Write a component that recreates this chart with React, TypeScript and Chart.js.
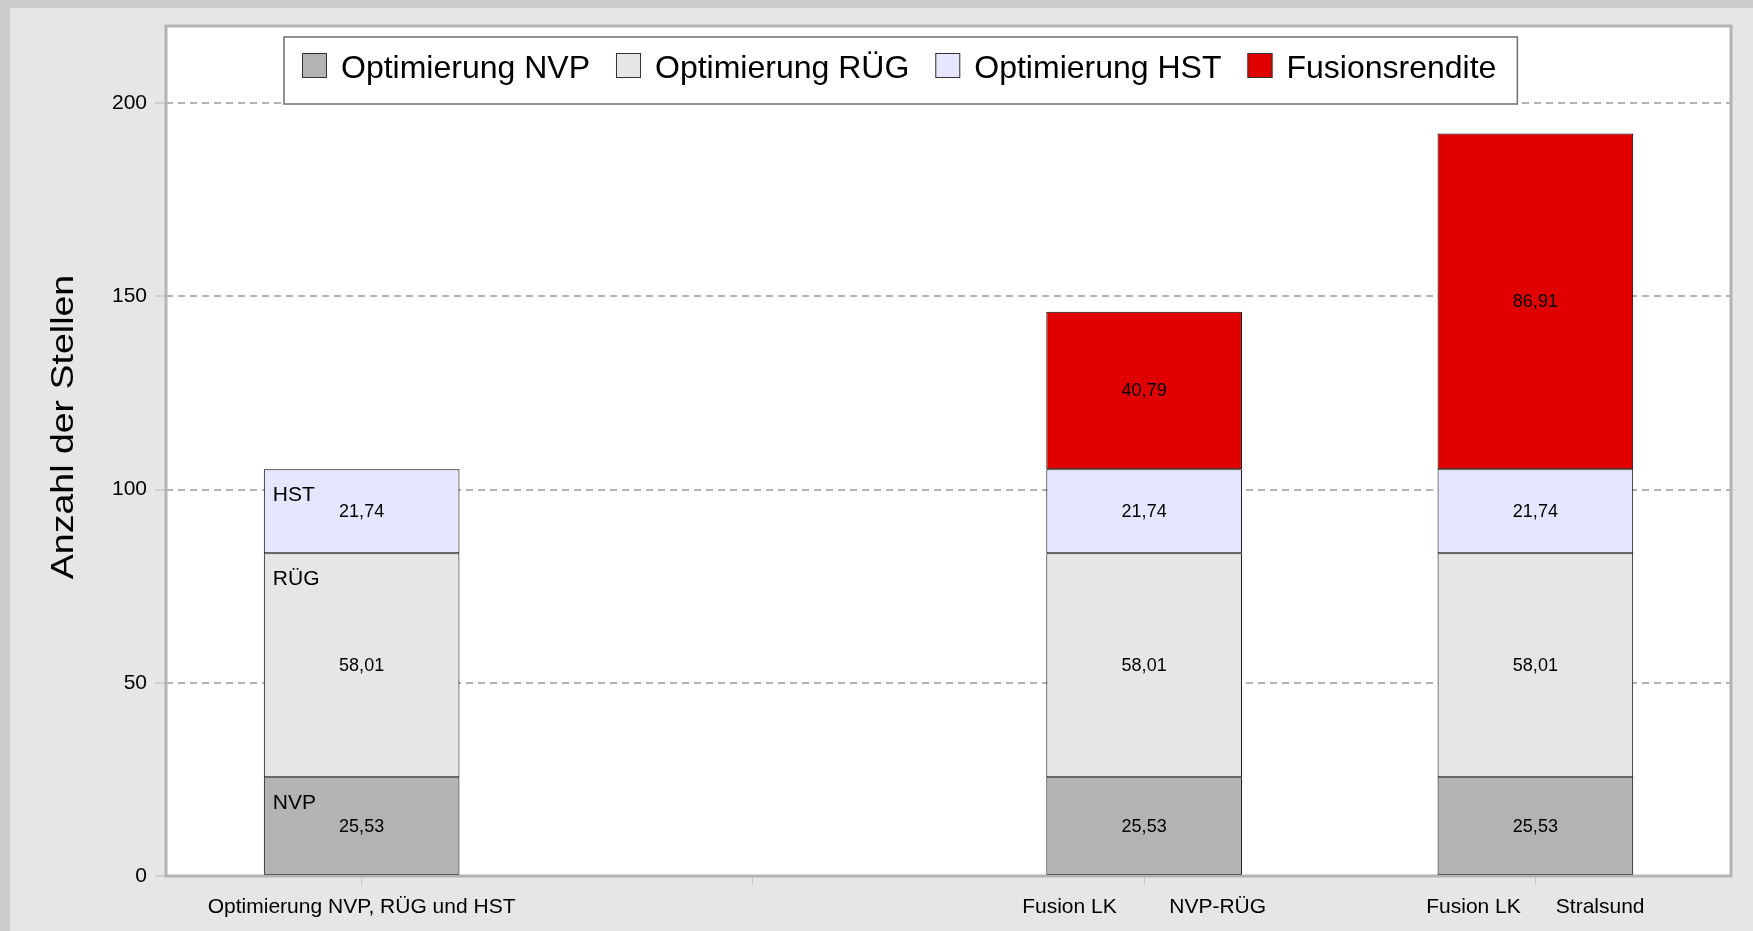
import React, { useEffect, useRef } from "react";
import { Chart, registerables } from "chart.js";

Chart.register(...registerables);

const categories = [
  "Optimierung NVP, RÜG und HST",
  "",
  "Fusion LK         NVP-RÜG",
  "Fusion LK      Stralsund",
];
const seriesNames = ["Optimierung NVP", "Optimierung RÜG", "Optimierung HST", "Fusionsrendite"];
const segmentTags = ["NVP", "RÜG", "HST"];
const nvpValues = [25.53, null, 25.53, 25.53];
const ruegValues = [58.01, null, 58.01, 58.01];
const hstValues = [21.74, null, 21.74, 21.74];
const fusionValues = [null, null, 40.79, 86.91];
const yTickValues = [0, 50, 100, 150, 200];
const yMax = 220;
const yTitle = "Anzahl der Stellen";
const seriesColors = ["#b3b3b3", "#e6e6e6", "#e6e6ff", "#e00000"];

const FONT = "'Liberation Sans', Arial, sans-serif";

const backgroundPlugin = {
  id: "bg",
  beforeDraw(chart: any) {
    const { ctx, width, height, chartArea: a } = chart;
    ctx.save();
    ctx.fillStyle = "#cccccc";
    ctx.fillRect(0, 0, width, height);
    ctx.fillStyle = "#e6e6e6";
    ctx.fillRect(10, 8, width - 10, height - 8);
    ctx.fillStyle = "#ffffff";
    ctx.fillRect(a.left, a.top, a.right - a.left, a.bottom - a.top);
    ctx.restore();
  },
};

const overlayPlugin = {
  id: "overlay",
  afterDatasetsDraw(chart: any) {
    const { ctx, chartArea: a } = chart;
    ctx.save();
    // value labels
    ctx.fillStyle = "#000";
    ctx.textAlign = "center";
    ctx.textBaseline = "middle";
    ctx.font = `18px ${FONT}`;
    chart.data.datasets.forEach((ds: any, i: number) => {
      const meta = chart.getDatasetMeta(i);
      meta.data.forEach((el: any, j: number) => {
        const v = ds.data[j];
        if (v == null) return;
        const p = el.getProps(["x", "y", "base"], true);
        ctx.fillText(v.toFixed(2).replace(".", ","), p.x, (p.y + p.base) / 2 + 1);
      });
    });
    // segment tags in first bar
    ctx.textAlign = "left";
    ctx.font = `21px ${FONT}`;
    segmentTags.forEach((tag, i) => {
      const el: any = chart.getDatasetMeta(i).data[0];
      if (!el) return;
      const p = el.getProps(["x", "y", "width"], true);
      ctx.fillText(tag, p.x - p.width / 2 + 9, p.y + 26);
    });
    // plot border
    ctx.strokeStyle = "#b3b3b3";
    ctx.lineWidth = 3;
    ctx.strokeRect(a.left, a.top, a.right - a.left, a.bottom - a.top);
    ctx.restore();
  },
  afterDraw(chart: any) {
    const { ctx, chartArea: a } = chart;
    ctx.save();
    // legend
    ctx.font = `32px ${FONT}`;
    const boxSize = 25;
    const gapBoxText = 14;
    const gapItems = 26;
    const left = a.left + 118;
    const top = 37;
    const bottom = 104;
    let x = left + 18;
    const items = seriesNames.map((name, i) => {
      const w = ctx.measureText(name).width;
      const it = { name, color: seriesColors[i], x, w };
      x += boxSize + gapBoxText + w + gapItems;
      return it;
    });
    const right = x - gapItems + 21;
    ctx.fillStyle = "#ffffff";
    ctx.fillRect(left, top, right - left, bottom - top);
    ctx.strokeStyle = "#6f6f6f";
    ctx.lineWidth = 1.5;
    ctx.strokeRect(left, top, right - left, bottom - top);
    items.forEach((it) => {
      ctx.fillStyle = it.color;
      ctx.fillRect(it.x, 53, boxSize, boxSize);
      ctx.strokeStyle = "#333";
      ctx.lineWidth = 1;
      ctx.strokeRect(it.x + 0.5, 53.5, boxSize - 1, boxSize - 1);
      ctx.fillStyle = "#000";
      ctx.textAlign = "left";
      ctx.textBaseline = "alphabetic";
      ctx.fillText(it.name, it.x + boxSize + gapBoxText, 78);
    });
    // y axis title
    ctx.translate(73, 427);
    ctx.rotate(-Math.PI / 2);
    ctx.scale(1.21, 1);
    ctx.font = `31px ${FONT}`;
    ctx.fillStyle = "#000";
    ctx.textAlign = "center";
    ctx.textBaseline = "alphabetic";
    ctx.fillText(yTitle, 0, 0);
    ctx.restore();
  },
};

export default function App() {
  const ref = useRef<HTMLCanvasElement>(null);
  useEffect(() => {
    const valueSets = [nvpValues, ruegValues, hstValues, fusionValues];
    const chart = new Chart(ref.current as HTMLCanvasElement, {
      type: "bar",
      data: {
        labels: categories,
        datasets: valueSets.map((vals, i) => ({
          label: seriesNames[i],
          data: vals as any,
          backgroundColor: seriesColors[i],
          borderColor: "#000000",
          borderWidth: 1,
          borderSkipped: false,
          barPercentage: 0.5,
          categoryPercentage: 1,
        })),
      },
      options: {
        animation: false,
        responsive: true,
        maintainAspectRatio: false,
        events: [],
        layout: { padding: { top: 26, right: 22, bottom: 0, left: 0 } },
        plugins: {
          legend: { display: false },
          tooltip: { enabled: false },
          title: { display: false },
        },
        scales: {
          x: {
            stacked: true,
            offset: true,
            border: { display: false },
            grid: {
              display: true,
              drawOnChartArea: false,
              drawTicks: true,
              tickLength: 9,
              offset: false,
              tickColor: "#c8c8c8",
              tickWidth: 1,
            },
            ticks: {
              color: "#000",
              padding: 10,
              autoSkip: false,
              maxRotation: 0,
              font: { family: FONT, size: 21 },
            },
            afterFit(scale: any) {
              scale.height = 55;
            },
          },
          y: {
            stacked: true,
            min: 0,
            max: yMax,
            border: { display: false, dash: [7, 5] },
            grid: {
              color: "#b3b3b3",
              lineWidth: 2,
              drawTicks: true,
              tickLength: 11,
              tickColor: "#c8c8c8",
              tickWidth: 1.5,
              tickBorderDash: [],
            } as any,
            ticks: {
              stepSize: 50,
              color: "#000",
              padding: 8,
              font: { family: FONT, size: 21 },
            },
            afterBuildTicks(scale: any) {
              scale.ticks = yTickValues.map((v) => ({ value: v }));
            },
            afterFit(scale: any) {
              scale.width = 166;
            },
          },
        },
      },
      plugins: [backgroundPlugin, overlayPlugin],
    });
    return () => chart.destroy();
  }, []);
  return (
    <div style={{ position: "fixed", left: 0, top: 0, width: 1753, height: 931 }}>
      <canvas ref={ref} />
    </div>
  );
}
